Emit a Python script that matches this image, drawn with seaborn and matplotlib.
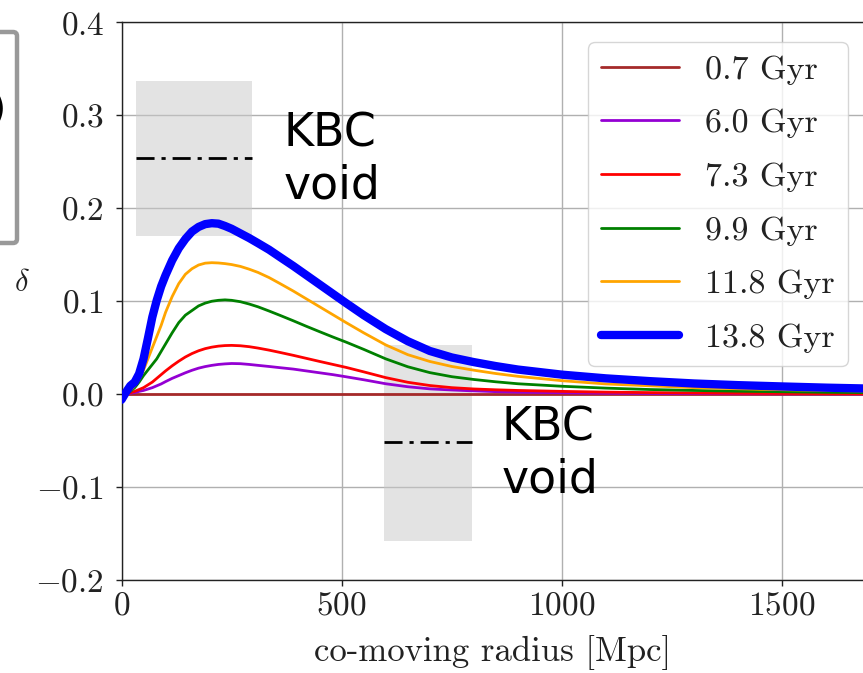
import numpy as np
import pandas as pd
import matplotlib
matplotlib.use("Agg")
import matplotlib.pyplot as plt
import matplotlib.patches as mpatches
import matplotlib.transforms as mtransforms
from matplotlib.ticker import FixedLocator, FuncFormatter
import seaborn as sns

# co-moving radius samples [Mpc]
radius = [0, 10, 20, 30, 40, 50, 60, 70, 80, 90, 100,
          115, 130, 145, 160, 175, 190, 205, 220, 235, 250,
          270, 290, 310, 335, 360, 390, 420, 450, 480, 510,
          550, 600, 650, 700, 750, 800, 850, 900,
          1000, 1100, 1200, 1300, 1400, 1500, 1600, 1750]

# density contrast profiles at each cosmic age
ages = ["0.7 Gyr", "6.0 Gyr", "7.3 Gyr", "9.9 Gyr", "11.8 Gyr", "13.8 Gyr"]
delta_0p7 = [0.0] * len(radius)
delta_6p0 = [0, 0.0003, 0.001, 0.0018, 0.003, 0.004, 0.0055, 0.007, 0.009, 0.011, 0.0135,
             0.017, 0.020, 0.023, 0.0257, 0.028, 0.0297, 0.031, 0.032, 0.0326, 0.033,
             0.0328, 0.032, 0.031, 0.0298, 0.0285, 0.027, 0.025, 0.023, 0.021, 0.0187,
             0.0155, 0.0112, 0.008, 0.0057, 0.0045, 0.0035, 0.0027, 0.0021,
             0.0015, 0.001, 0.0008, 0.0006, 0.0005, 0.0004, 0.0003, 0.0002]
delta_7p3 = [0, 0.0005, 0.0015, 0.003, 0.005, 0.007, 0.010, 0.013, 0.017, 0.021, 0.025,
             0.0305, 0.0355, 0.0400, 0.0437, 0.0467, 0.0490, 0.0506, 0.0517, 0.0523, 0.0525,
             0.0521, 0.0511, 0.0496, 0.0474, 0.0449, 0.0418, 0.0385, 0.0352, 0.0320, 0.0288,
             0.0240, 0.0178, 0.0128, 0.0093, 0.0070, 0.0056, 0.0047, 0.0040,
             0.003, 0.0022, 0.0017, 0.0013, 0.001, 0.0008, 0.0006, 0.0004]
delta_9p9 = [0, 0.001, 0.003, 0.007, 0.013, 0.020, 0.026, 0.032, 0.038, 0.046, 0.054,
             0.066, 0.077, 0.085, 0.090, 0.095, 0.098, 0.100, 0.101, 0.1015, 0.101,
             0.0995, 0.097, 0.094, 0.0895, 0.0848, 0.0790, 0.0730, 0.0672, 0.0615, 0.0560,
             0.0482, 0.0380, 0.0295, 0.0232, 0.0188, 0.0158, 0.0133, 0.0112,
             0.0085, 0.0065, 0.005, 0.004, 0.0032, 0.0026, 0.002, 0.0015]
delta_11p8 = [0, 0.001, 0.004, 0.009, 0.016, 0.026, 0.038, 0.050, 0.062, 0.074, 0.088,
              0.105, 0.119, 0.129, 0.135, 0.139, 0.141, 0.1415, 0.1412, 0.1405, 0.1395,
              0.1375, 0.1345, 0.131, 0.1255, 0.119, 0.111, 0.1025, 0.094, 0.0855, 0.077,
              0.066, 0.053, 0.0425, 0.0352, 0.0298, 0.0258, 0.0222, 0.0192,
              0.0145, 0.011, 0.009, 0.007, 0.0058, 0.0048, 0.004, 0.003]
delta_13p8 = [-0.006, 0.002, 0.009, 0.013, 0.022, 0.038, 0.060, 0.083, 0.101, 0.116, 0.128,
              0.144, 0.157, 0.167, 0.175, 0.180, 0.183, 0.184, 0.1835, 0.181, 0.178,
              0.173, 0.168, 0.1625, 0.1555, 0.1475, 0.138, 0.128, 0.118, 0.108, 0.098,
              0.085, 0.070, 0.057, 0.0465, 0.0395, 0.0345, 0.0302, 0.0265,
              0.021, 0.017, 0.014, 0.0115, 0.0097, 0.0083, 0.0070, 0.0055]
profiles = [delta_0p7, delta_6p0, delta_7p3, delta_9p9, delta_11p8, delta_13p8]
colors = ["#a52a2a", "#9400d3", "#ff0000", "#008000", "#ffa500", "#0000ff"]
widths = [2.0, 2.0, 2.0, 2.0, 2.0, 6.0]

# KBC void observational constraints: radius range, delta range, central value
kbc_r = [(33, 296), (595, 795)]
kbc_delta = [(0.170, 0.337), (-0.158, 0.0525)]
kbc_center = [0.254, -0.051]
kbc_text_pos = [(368, 0.252), (862, -0.064)]

y_ticks = [-0.2, -0.1, 0.0, 0.1, 0.2, 0.3, 0.4]
x_ticks = [0, 500, 1000, 1500]

sns.set_style("ticks")
plt.rcParams["font.family"] = ["cmr10", "DejaVu Sans"]
plt.rcParams["mathtext.fontset"] = "cm"
plt.rcParams["axes.formatter.use_mathtext"] = True

W, H = 863, 673
fig = plt.figure(figsize=(W / 100, H / 100), dpi=100)
ax = fig.add_axes([121.5 / W, (H - 580) / H, 743 / W, 557.5 / H])

long = pd.DataFrame({
    "radius": np.tile(radius, len(ages)),
    "delta": np.concatenate(profiles),
    "age": np.repeat(ages, len(radius)),
})

for age, col, lw in zip(ages, colors, widths):
    sub = long[long["age"] == age]
    sns.lineplot(data=sub, x="radius", y="delta", color=col, lw=lw,
                 label=age, ax=ax, zorder=3, estimator=None, sort=False)

for (r0, r1), (d0, d1), dc in zip(kbc_r, kbc_delta, kbc_center):
    ax.add_patch(mpatches.Rectangle((r0, d0), r1 - r0, d1 - d0,
                                    facecolor="#c8c8c8", alpha=0.5,
                                    edgecolor="none", zorder=1))
    ax.plot([r0, r1], [dc, dc], color="black", lw=2,
            linestyle=(0, (6.5, 2.5, 1.5, 2.5)), zorder=2)

for (tx, ty) in kbc_text_pos:
    ax.text(tx, ty, "KBC\nvoid", fontsize=33, family="DejaVu Sans",
            color="black", ha="left", va="center", zorder=4)

ax.set_xlim(0, 1687)
ax.set_ylim(-0.2, 0.4)
ax.xaxis.set_major_locator(FixedLocator(x_ticks))
ax.yaxis.set_major_locator(FixedLocator(y_ticks))
ax.yaxis.set_major_formatter(FuncFormatter(
    lambda v, p: r"$%.1f$" % v if abs(v) > 1e-9 else r"$0.0$"))
ax.xaxis.set_major_formatter(FuncFormatter(lambda v, p: r"$%d$" % v))
ax.tick_params(labelsize=24, direction="out", length=4.5, width=1,
               color="#222222", labelcolor="#222222")
ax.tick_params(axis="y", pad=8)
ax.tick_params(axis="x", pad=4)
ax.grid(True, color="#b0b0b0", lw=1.0)
ax.set_axisbelow(True)
for s in ax.spines.values():
    s.set_color("#222222")
    s.set_linewidth(1.0)

ax.set_xlabel("co-moving radius [Mpc]", fontsize=25, color="#222222", labelpad=10)
ax.set_ylabel(r"$\delta$", fontsize=22, rotation=0, va="center", color="#222222")
ax.yaxis.set_label_coords(-100 / 743, 0.533)

leg = ax.legend(loc="upper right", bbox_to_anchor=(848 / W, 1 - 42 / H),
                bbox_transform=fig.transFigure, borderaxespad=0,
                fontsize=24.5, handlelength=2.3, handletextpad=0.78,
                labelspacing=0.7, borderpad=0.38, frameon=True,
                framealpha=0.8, edgecolor="0.8", fancybox=True)
for t in leg.get_texts():
    t.set_color("#222222")
leg.set_zorder(5)

# neighbouring panel's legend frame peeking in from the left
frag = mpatches.FancyBboxPatch((-40, H - 243), 57, 211,
                               boxstyle="round,pad=0,rounding_size=4",
                               transform=mtransforms.IdentityTransform(),
                               facecolor="white", edgecolor="#999999", lw=3.2)
fig.patches.append(frag)
fig.text(6 / W, 1 - 110 / H, ")", fontsize=28, family="DejaVu Sans",
         color="black", ha="right", va="center")

fig.savefig("out.png", dpi=100)
